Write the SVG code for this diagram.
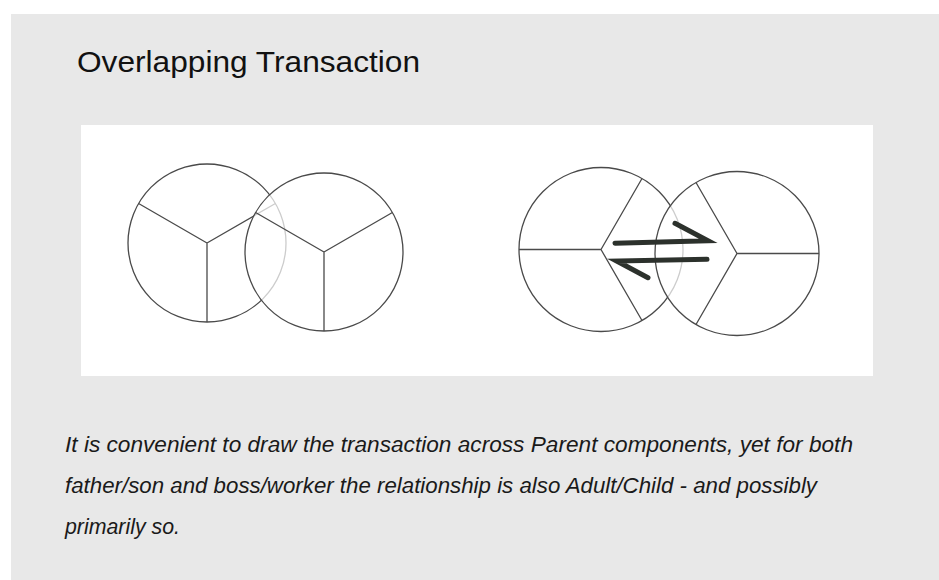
<svg xmlns="http://www.w3.org/2000/svg" width="939" height="580" viewBox="0 0 939 580">
  <style>
    .ring { fill: #ffffff; stroke: #4a4a4a; stroke-width: 1.3; }
    .top { fill: #ffffff; fill-opacity: 0.72; stroke: #4a4a4a; stroke-width: 1.3; }
    .div { fill: none; stroke: #4a4a4a; stroke-width: 1.3; }
    .arrow { fill: none; stroke: #2c312c; stroke-width: 5; stroke-linecap: round; }
    .title { font-family: "Liberation Sans", Arial, sans-serif; font-size: 30px; fill: #111111; }
    .body { font-family: "Liberation Sans", Arial, sans-serif; font-style: italic; font-size: 22px; fill: #1a1a1a; }
  </style>
  <rect x="0" y="0" width="939" height="580" fill="#ffffff"/>
  <rect x="11" y="14" width="928" height="566" fill="#e8e8e8"/>
  <rect x="81" y="125" width="792" height="251" fill="#ffffff"/>

  <text class="title" x="77" y="72" textLength="343" lengthAdjust="spacingAndGlyphs">Overlapping Transaction</text>

  <g id="left-a">
    <circle class="ring" cx="207" cy="243" r="79"/>
    <path class="div" d="M207 243 L207 322 M207 243 L138.6 203.5 M207 243 L275.4 203.5"/>
  </g>
  <g id="left-b">
    <circle class="top" cx="324" cy="252" r="79"/>
    <path class="div" d="M324 252 L324 331 M324 252 L255.6 212.5 M324 252 L392.4 212.5"/>
  </g>

  <g id="right-c">
    <circle class="ring" cx="601" cy="249.5" r="82"/>
    <path class="div" d="M601 249.5 L519 249.5 M601 249.5 L642 178.5 M601 249.5 L642 320.5"/>
  </g>
  <g id="right-d">
    <circle class="top" cx="737" cy="253.5" r="82"/>
    <path class="div" d="M737 253.5 L819 253.5 M737 253.5 L696 182.5 M737 253.5 L696 324.5"/>
  </g>

  <g id="connectors">
    <path class="arrow" d="M615 243.3 L708 240.7 L675 223.3"/>
    <path class="arrow" d="M707 259.3 L616.7 261 L648 277.7"/>
  </g>

  <text class="body" x="65" y="452" textLength="788" lengthAdjust="spacingAndGlyphs">It is convenient to draw the transaction across Parent components, yet for both</text>
  <text class="body" x="65" y="493" textLength="752" lengthAdjust="spacingAndGlyphs">father/son and boss/worker the relationship is also Adult/Child - and possibly</text>
  <text class="body" x="65" y="534" textLength="115" lengthAdjust="spacingAndGlyphs">primarily so.</text>
</svg>
